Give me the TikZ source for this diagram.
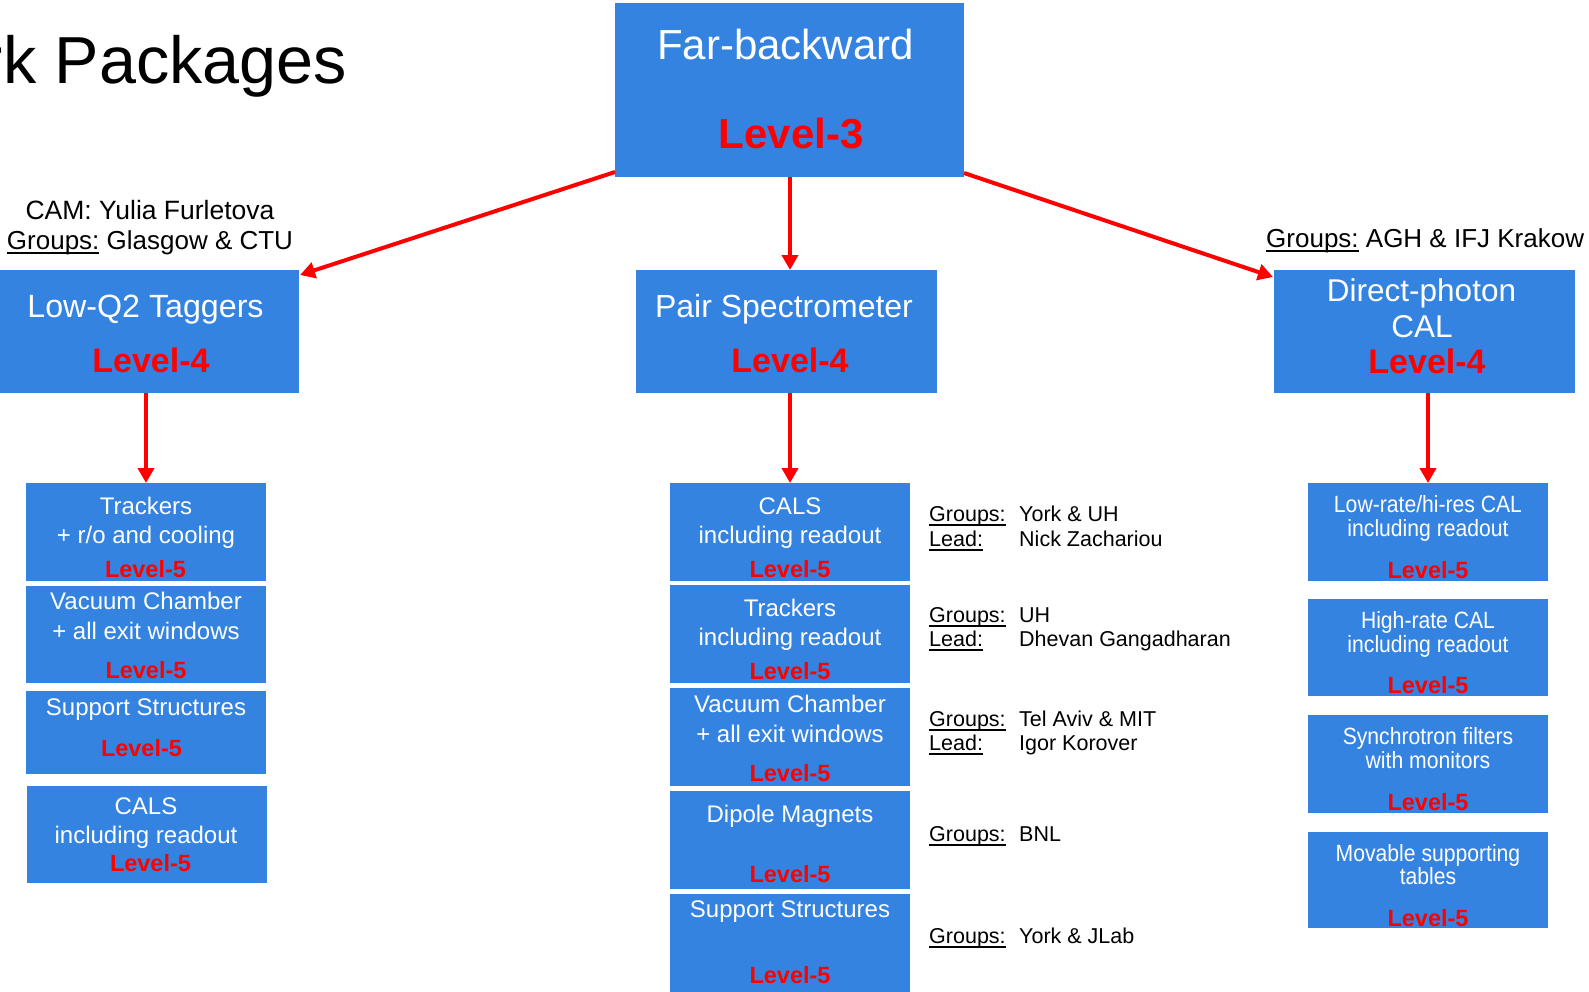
\documentclass[tikz,border=0pt]{standalone}
\usepackage{fontspec}
\setmainfont{Liberation Sans}
\newfontfamily\condfont[FakeStretch=0.9]{Liberation Sans}
\usetikzlibrary{arrows.meta}
\definecolor{boxblue}{RGB}{52,131,225}
\newcommand\fs[1]{\fontsize{#1}{#1}\selectfont}
\newsavebox\ulbox
\newcommand\ulgr[1]{\sbox\ulbox{#1}\rlap{\rule[-0.21em]{\wd\ulbox}{0.09em}}\usebox\ulbox}
\tikzset{
  wp/.style={fill=boxblue, draw=none, inner sep=0pt, outer sep=0pt},
  txt/.style={anchor=base, inner sep=0pt, text=white},
  lvl/.style={anchor=base, inner sep=0pt, text=red, font=\bfseries\fs{23.5}},
  blk/.style={anchor=base, inner sep=0pt, text=black},
  arr/.style={draw=red, line width=4pt, -{Triangle[width=16pt,length=15pt]}}
}
\begin{document}
\begin{tikzpicture}[x=1pt,y=-1pt]
\useasboundingbox (0,0) rectangle (1589,991);
% title
\node[blk, anchor=base east, font=\fs{66.5}] (title) at (347,83) {rk Packages};
% boxes
\node[wp, minimum width=349pt, minimum height=174pt] (fb) at (789.5,90) {};
\node[wp, minimum width=299pt, minimum height=123pt] (lq) at (149.5,331.5) {};
\node[wp, minimum width=301pt, minimum height=123pt] (ps) at (786.5,331.5) {};
\node[wp, minimum width=301pt, minimum height=123pt] (dp) at (1424.5,331.5) {};
% left column
\node[wp, minimum width=240pt, minimum height=98pt] (l1) at (146,532) {};
\node[wp, minimum width=240pt, minimum height=97pt] (l2) at (146,634.5) {};
\node[wp, minimum width=240pt, minimum height=83pt] (l3) at (146,732.5) {};
\node[wp, minimum width=240pt, minimum height=97pt] (l4) at (147,834.5) {};
% center column
\node[wp, minimum width=240pt, minimum height=98pt] (c1) at (790,532) {};
\node[wp, minimum width=240pt, minimum height=98pt] (c2) at (790,634) {};
\node[wp, minimum width=240pt, minimum height=98pt] (c3) at (790,737) {};
\node[wp, minimum width=240pt, minimum height=98pt] (c4) at (790,840) {};
\node[wp, minimum width=240pt, minimum height=104pt] (c5) at (790,946) {};
% right column
\node[wp, minimum width=240pt, minimum height=98pt] (r1) at (1428,532) {};
\node[wp, minimum width=240pt, minimum height=97pt] (r2) at (1428,647.5) {};
\node[wp, minimum width=240pt, minimum height=98pt] (r3) at (1428,764) {};
\node[wp, minimum width=240pt, minimum height=96pt] (r4) at (1428,880) {};
% top texts
\node[txt, font=\fs{42}] (fbt) at (785.5,59) {Far-backward};
\node[lvl, font=\bfseries\fs{42}] (fbl) at (791,148) {Level-3};
\node[txt, font=\fs{32.2}] (lqt) at (145.5,317) {Low-Q2 Taggers};
\node[lvl, font=\bfseries\fs{34}] (lql) at (151,372) {Level-4};
\node[txt, font=\fs{32}] (pst) at (784,317) {Pair Spectrometer};
\node[lvl, font=\bfseries\fs{34}] (psl) at (790,372) {Level-4};
\node[txt, font=\fs{31.5}] (dpt1) at (1421.5,301) {Direct-photon};
\node[txt, font=\fs{31.5}] (dpt2) at (1422,337) {CAL};
\node[lvl, font=\bfseries\fs{34}] (dpl) at (1427,373) {Level-4};
% labels near level-4
\node[blk, font=\fs{26.5}] (cam) at (150,219) {CAM: Yulia Furletova};
\node[blk, font=\fs{26}] (glg) at (150,249) {\ulgr{Groups:} Glasgow \& CTU};
\node[blk, anchor=base west, font=\fs{26}] (agh) at (1266,247) {\ulgr{Groups:} AGH \& IFJ Krakow};
% left column texts
\begin{scope}[every node/.append style={font=\fs{24}}]
\node[txt] (l1a) at (146,514) {Trackers};
\node[txt] (l1b) at (146,543) {+ r/o and cooling};
\node[txt] (l2a) at (146,609) {Vacuum Chamber};
\node[txt] (l2b) at (146,639) {+ all exit windows};
\node[txt] (l3a) at (146,715) {Support Structures};
\node[txt] (l4a) at (146,814) {CALS};
\node[txt] (l4b) at (146,843) {including readout};
\node[txt] (c1a) at (790,514) {CALS};
\node[txt] (c1b) at (790,543) {including readout};
\node[txt] (c2a) at (790,616) {Trackers};
\node[txt] (c2b) at (790,645) {including readout};
\node[txt] (c3a) at (790,712) {Vacuum Chamber};
\node[txt] (c3b) at (790,742) {+ all exit windows};
\node[txt] (c4a) at (790,822) {Dipole Magnets};
\node[txt] (c5a) at (790,917) {Support Structures};
\end{scope}
\node[lvl] (l1l) at (145.5,577) {Level-5};
\node[lvl] (l2l) at (146,678) {Level-5};
\node[lvl] (l3l) at (141.5,756) {Level-5};
\node[lvl] (l4l) at (150.5,871) {Level-5};
\node[lvl] (c1l) at (790,577) {Level-5};
\node[lvl] (c2l) at (790,679) {Level-5};
\node[lvl] (c3l) at (790,781) {Level-5};
\node[lvl] (c4l) at (790,882) {Level-5};
\node[lvl] (c5l) at (790,983) {Level-5};
% right column texts
\begin{scope}[every node/.append style={font=\condfont\fs{23.5}}]
\node[txt] (r1a) at (1428,512) {Low-rate/hi-res CAL};
\node[txt] (r1b) at (1428,536) {including readout};
\node[txt] (r2a) at (1428,628) {High-rate CAL};
\node[txt] (r2b) at (1428,652) {including readout};
\node[txt] (r3a) at (1428,744) {Synchrotron filters};
\node[txt] (r3b) at (1428,768) {with monitors};
\node[txt] (r4a) at (1428,861) {Movable supporting};
\node[txt] (r4b) at (1428,884) {tables};
\end{scope}
\node[lvl] (r1l) at (1428,578) {Level-5};
\node[lvl] (r2l) at (1428,693) {Level-5};
\node[lvl] (r3l) at (1428,810) {Level-5};
\node[lvl] (r4l) at (1428,926) {Level-5};
% groups / leads
\begin{scope}[every node/.append style={font=\fs{21.5}}]
\node[blk, anchor=base west] (g1) at (929,521) {\ulgr{Groups:}};
\node[blk, anchor=base west] (g1v) at (1019,521) {York \& UH};
\node[blk, anchor=base west] (d1) at (929,546) {\ulgr{Lead:}};
\node[blk, anchor=base west] (d1v) at (1019,546) {Nick Zachariou};
\node[blk, anchor=base west] (g2) at (929,622) {\ulgr{Groups:}};
\node[blk, anchor=base west] (g2v) at (1019,622) {UH};
\node[blk, anchor=base west] (d2) at (929,646) {\ulgr{Lead:}};
\node[blk, anchor=base west] (d2v) at (1019,646) {Dhevan Gangadharan};
\node[blk, anchor=base west] (g3) at (929,726) {\ulgr{Groups:}};
\node[blk, anchor=base west] (g3v) at (1019,726) {Tel Aviv \& MIT};
\node[blk, anchor=base west] (d3) at (929,750) {\ulgr{Lead:}};
\node[blk, anchor=base west] (d3v) at (1019,750) {Igor Korover};
\node[blk, anchor=base west] (g4) at (929,841) {\ulgr{Groups:}};
\node[blk, anchor=base west] (g4v) at (1019,841) {BNL};
\node[blk, anchor=base west] (g5) at (929,943) {\ulgr{Groups:}};
\node[blk, anchor=base west] (g5v) at (1019,943) {York \& JLab};
\end{scope}
% arrows
\draw[arr] ([yshift=5pt]fb.south west) -- ([xshift=1pt,yshift=-5pt]lq.north east);
\draw[arr] ([xshift=0.5pt]fb.south) -- ([xshift=3.5pt]ps.north);
\draw[arr] ([yshift=4pt]fb.south east) -- ([xshift=-1pt,yshift=-7pt]dp.north west);
\draw[arr] (l1.north |- lq.south) -- (l1.north);
\draw[arr] (c1.north |- ps.south) -- (c1.north);
\draw[arr] (r1.north |- dp.south) -- (r1.north);
\end{tikzpicture}
\end{document}
